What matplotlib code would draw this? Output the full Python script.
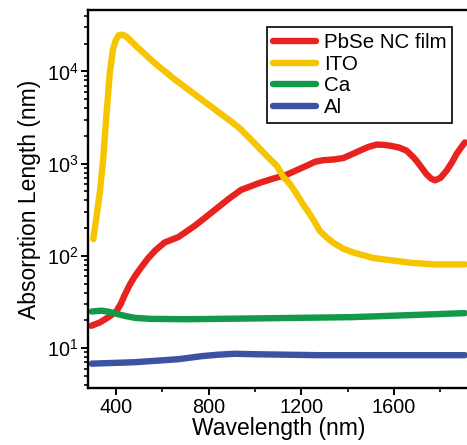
import numpy as np
import matplotlib.pyplot as plt

plt.rcParams['font.family'] = ['Liberation Sans', 'DejaVu Sans']
plt.rcParams['mathtext.fontset'] = 'custom'
plt.rcParams['mathtext.rm'] = 'Liberation Sans'
plt.rcParams['mathtext.default'] = 'regular'

# values (wavelength in nm, absorption length in nm)
pbse_wl = [293, 330, 365, 401, 420, 438, 460, 481, 510, 538, 570, 610, 669, 741,
           813, 885, 940, 1021, 1072, 1137, 1180, 1223, 1260, 1295, 1340, 1381,
           1420, 1453, 1490, 1525, 1555, 1583, 1620, 1654, 1680, 1697, 1720, 1740,
           1760, 1777, 1800, 1827, 1850, 1870, 1890, 1906]
pbse_len = [17.5, 19, 21.5, 25, 30, 38, 49, 60, 76, 94, 115, 140, 160, 213,
            296, 413, 520, 620, 681, 760, 850, 950, 1050, 1090, 1110, 1150,
            1270, 1385, 1520, 1610, 1600, 1565, 1500, 1385, 1200, 1075, 900, 770,
            690, 660, 700, 840, 1030, 1275, 1500, 1700]

ito_wl = [302, 316, 331, 345, 358, 373, 387, 400, 412, 428, 445, 495, 567, 653,
          763, 906, 935, 980, 1021, 1060, 1094, 1122, 1151, 1180, 1208, 1237,
          1266, 1280, 1310, 1338, 1380, 1424, 1510, 1583, 1680, 1770, 1906]
ito_len = [152, 270, 510, 1150, 3200, 9500, 17500, 22000, 24700, 25000, 23800,
           18000, 12300, 8200, 5100, 2750, 2400, 1850, 1450, 1150, 950, 720, 600,
           468, 360, 283, 215, 186, 158, 139, 120, 109, 95, 90, 84, 81, 81]

ca_wl = [295, 338, 370, 410, 445, 482, 550, 698, 986, 1417, 1705, 1906]
ca_len = [25, 25.5, 24.8, 23.3, 22.2, 21.3, 20.8, 20.6, 21, 21.7, 23, 24]

al_wl = [295, 482, 669, 720, 770, 840, 914, 1000, 1273, 1906]
al_len = [6.8, 7.05, 7.6, 7.9, 8.2, 8.5, 8.7, 8.6, 8.4, 8.4]

fig = plt.figure(figsize=(4.67, 4.45), dpi=100)
ax = fig.add_axes([0.1884, 0.128, 0.818, 0.849])

lw = 4.6
style = dict(lw=lw, solid_capstyle='round', solid_joinstyle='round')
ax.plot(pbse_wl, pbse_len, color='#e8231f', label='PbSe NC film', **style)
ax.plot(ito_wl, ito_len, color='#f7c400', label='ITO', **style)
ax.plot(ca_wl, ca_len, color='#13994a', label='Ca', **style)
ax.plot(al_wl, al_len, color='#3a53a3', label='Al', **style)

ax.set_yscale('log')
ax.set_xlim(279, 1928)
ax.set_ylim(3.7, 46000)
ax.set_xticks([400, 800, 1200, 1600])
ax.set_xticks([600, 1000, 1400, 1800], minor=True)

for s in ['left', 'bottom', 'top', 'right']:
    ax.spines[s].set_linewidth(1.7)
ax.tick_params(which='major', direction='out', length=5, width=1.4,
               labelsize=14.3, pad=2)
ax.tick_params(which='minor', direction='out', length=3, width=1.2)

ax.set_xlabel('Wavelength (nm)', fontsize=16.5, labelpad=0)
ax.set_ylabel('Absorption Length (nm)', fontsize=16.5, labelpad=4)

leg = ax.legend(loc='upper left', bbox_to_anchor=(0.469, 0.955),
                borderaxespad=0, fontsize=14.8, fancybox=False,
                edgecolor='black', framealpha=1, handlelength=2.1,
                handletextpad=0.35, labelspacing=0.12, borderpad=0.3)
leg.get_frame().set_linewidth(1.2)

fig.savefig('out.png', dpi=100)
